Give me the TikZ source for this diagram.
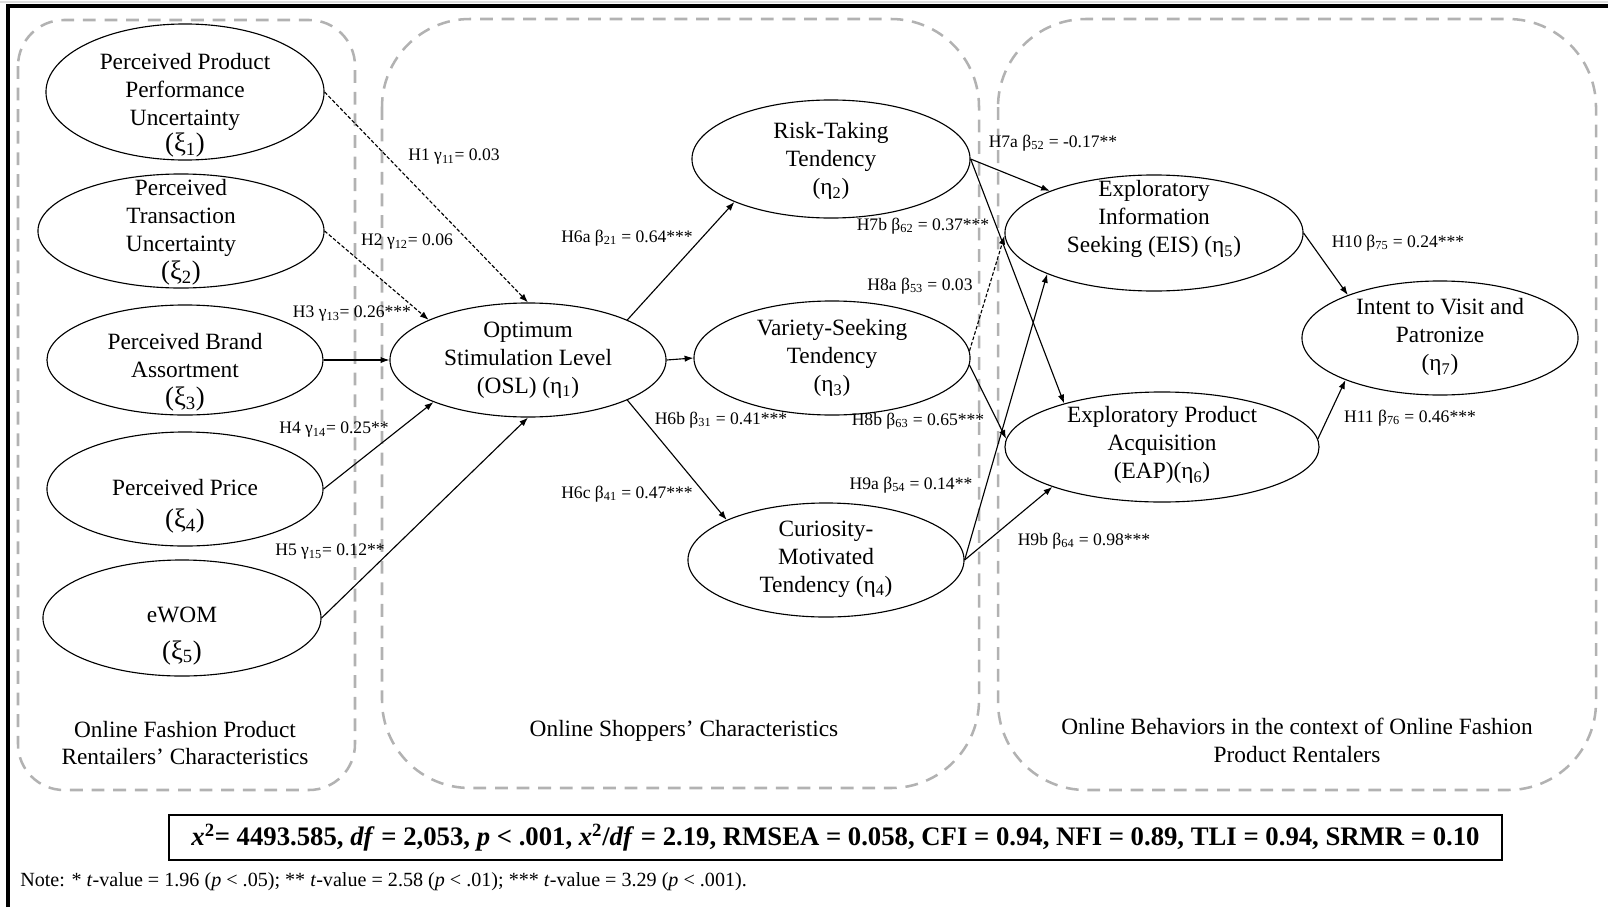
\documentclass[tikz,border=0pt]{standalone}
\usepackage{fontspec}
\setmainfont{Liberation Serif}
\usetikzlibrary{shapes.geometric,arrows.meta}

\newcommand{\conFont}{\fontsize{16.6}{19.9}\selectfont}
\newcommand{\hypFont}{\fontsize{12.5}{14}\selectfont}
\newcommand{\xiLine}[1]{{\fontsize{19}{19.9}\selectfont(ξ\textsubscript{#1})}}
\newcommand{\etaSub}[1]{(η\textsubscript{#1})}

\begin{document}
\begin{tikzpicture}[
        x=0.025cm,
        y=-0.025cm,
        construct/.style={
            ellipse,
            draw,
            line width=0.8pt,
            inner sep=0pt
        },
        constructText/.style={
            align=center,
            font=\conFont,
            inner sep=0pt
        },
        groupFrame/.style={
            draw=gray!60,
            line width=1.8pt,
            dash pattern=on 0.32cm off 0.22cm
        },
        groupText/.style={
            align=center,
            font=\conFont
        },
        link/.style={
            line width=0.8pt,
            -{Latex[length=0.22cm,width=0.16cm]}
        },
        weakLink/.style={
            link,
            dash pattern=on 0.09cm off 0.05cm
        },
        hypText/.style={
            font=\hypFont,
            inner sep=0pt
        },
        statsBox/.style={
            draw,
            line width=1.2pt,
            minimum width=33.33cm,
            minimum height=1.12cm,
            font=\fontsize{19}{21}\selectfont\bfseries
        },
        noteText/.style={
            font=\fontsize{14.3}{16}\selectfont,
            anchor=west,
            inner sep=0pt
        }
    ]

        \useasboundingbox (0,0) rectangle (1608,907);

        \draw[gray!25, line width=2pt] (0,2) -- (1608,2);
        \draw[line width=2.2pt] (8,907) -- (8,6) -- (1608,6);

        \draw[groupFrame, rounded corners=1.15cm] (18,20) rectangle (355,790);
        \draw[groupFrame, rounded corners=2.2cm] (382,19) rectangle (979,788);
        \draw[groupFrame, rounded corners=2.2cm] (998,19) rectangle (1596,790);

        \node[construct, minimum width=6.95cm, minimum height=3.4cm] (ppu) at (185,92) {};
        \node[constructText] (ppuText) at (185,105) {Perceived Product\\Performance\\Uncertainty\\[-1.5pt]\xiLine{1}};
        \node[construct, minimum width=7.15cm, minimum height=2.85cm] (ptu) at (181,231) {};
        \node[constructText] (ptuText) at (181,232) {Perceived\\Transaction\\Uncertainty\\\xiLine{2}};
        \node[construct, minimum width=6.9cm, minimum height=2.75cm] (pba) at (185,360) {};
        \node[constructText] (pbaText) at (185,372) {Perceived Brand\\Assortment\\\xiLine{3}};
        \node[construct, minimum width=6.9cm, minimum height=2.85cm] (pp) at (185,489) {};
        \node[constructText] (ppText) at (185,506) {Perceived Price\\[3pt]\xiLine{4}};
        \node[construct, minimum width=6.95cm, minimum height=2.9cm] (ewom) at (182,618) {};
        \node[constructText] (ewomText) at (182,636) {eWOM\\[6pt]\xiLine{5}};

        \node[construct, minimum width=6.9cm, minimum height=2.85cm] (osl) at (528,360) {};
        \node[constructText] (oslText) at (528,360) {Optimum\\Stimulation Level\\(OSL) \etaSub{1}};
        \node[construct, minimum width=6.95cm, minimum height=2.95cm] (rtt) at (831,159) {};
        \node[constructText] (rttText) at (831,161) {Risk-Taking\\Tendency\\\etaSub{2}};
        \node[construct, minimum width=6.9cm, minimum height=2.85cm] (vst) at (832,358) {};
        \node[constructText] (vstText) at (832,358) {Variety-Seeking\\Tendency\\\etaSub{3}};
        \node[construct, minimum width=6.9cm, minimum height=2.85cm] (cmt) at (826,560) {};
        \node[constructText] (cmtText) at (826,559) {Curiosity-\\Motivated\\Tendency \etaSub{4}};

        \node[construct, minimum width=7.45cm, minimum height=2.9cm] (eis) at (1154,233) {};
        \node[constructText] (eisText) at (1154,219) {Exploratory\\Information\\Seeking (EIS) \etaSub{5}};
        \node[construct, minimum width=7.85cm, minimum height=2.75cm] (eap) at (1162,447) {};
        \node[constructText] (eapText) at (1162,445) {Exploratory Product\\Acquisition\\(EAP)\etaSub{6}};
        \node[construct, minimum width=6.9cm, minimum height=2.85cm] (ivp) at (1440,338) {};
        \node[constructText] (ivpText) at (1440,337) {Intent to Visit and\\Patronize\\\etaSub{7}};

        \draw[weakLink] (ppu.east) -- (osl.north);
        \draw[weakLink] (ptu.east) -- (osl.158);
        \draw[link] (pba.east) -- (osl.west);
        \draw[link] (pp.east) -- (osl.204);
        \draw[link] (ewom.east) -- (osl.south);
        \draw[link] (osl.22) -- (rtt.204);
        \draw[link] (osl.east) -- (vst.west);
        \draw[link] (osl.338) -- (cmt.158);
        \draw[link] (rtt.east) -- (eis.158);
        \draw[link] (rtt.east) -- (eap.156);
        \draw[weakLink] (vst.3) -- (eis.181);
        \draw[link] (vst.357) -- (eap.177);
        \draw[link] (cmt.east) -- (eis.201);
        \draw[link] (cmt.east) -- (eap.200);
        \draw[link] (eis.east) -- (ivp.155);
        \draw[link] (eap.3) -- (ivp.204);

        \node[hypText] (h1) at (454,157) {H1 γ\textsubscript{11}= 0.03};
        \node[hypText] (h2) at (407,242) {H2 γ\textsubscript{12}= 0.06};
        \node[hypText] (h3) at (352,314) {H3 γ\textsubscript{13}= 0.26***};
        \node[hypText] (h4) at (334,430) {H4 γ\textsubscript{14}= 0.25**};
        \node[hypText] (h5) at (330,552) {H5 γ\textsubscript{15}= 0.12**};
        \node[hypText] (h6a) at (627,238) {H6a β\textsubscript{21} = 0.64***};
        \node[hypText] (h6b) at (721,420) {H6b β\textsubscript{31} = 0.41***};
        \node[hypText] (h6c) at (627,494) {H6c β\textsubscript{41} = 0.47***};
        \node[hypText] (h7a) at (1053,143) {H7a β\textsubscript{52} = -0.17**};
        \node[hypText] (h7b) at (923,226) {H7b β\textsubscript{62} = 0.37***};
        \node[hypText] (h8a) at (920,286) {H8a β\textsubscript{53} = 0.03};
        \node[hypText] (h8b) at (918,421) {H8b β\textsubscript{63} = 0.65***};
        \node[hypText] (h9a) at (911,485) {H9a β\textsubscript{54} = 0.14**};
        \node[hypText] (h9b) at (1084,541) {H9b β\textsubscript{64} = 0.98***};
        \node[hypText] (h10) at (1398,243) {H10 β\textsubscript{75} = 0.24***};
        \node[hypText] (h11) at (1410,418) {H11 β\textsubscript{76} = 0.46***};

        \node[groupText] (retailers) at (185,743) {Online Fashion Product\\Rentailers’ Characteristics};
        \node[groupText] (shoppers) at (684,731) {Online Shoppers’ Characteristics};
        \node[groupText] (behaviors) at (1297,740) {Online Behaviors in the context of Online Fashion\\Product Rentalers};

        \node[statsBox] (stats) at (835.5,837.5) {\textit{x}\textsuperscript{2}= 4493.585, \textit{df} = 2,053, \textit{p} < .001, \textit{x}\textsuperscript{2}/\textit{df} = 2.19, RMSEA = 0.058, CFI = 0.94, NFI = 0.89, TLI = 0.94, SRMR = 0.10};
        \node[noteText] (note) at (20,882) {Note: * \textit{t}-value = 1.96 (\textit{p} < .05); ** \textit{t}-value = 2.58 (\textit{p} < .01); *** \textit{t}-value = 3.29 (\textit{p} < .001).};

    \end{tikzpicture}
\end{document}
